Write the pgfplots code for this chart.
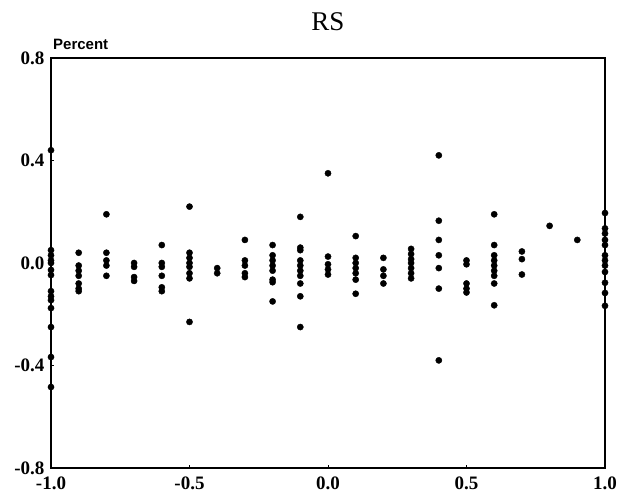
\documentclass[border=0pt]{standalone}
\usepackage{pgfplots}
\pgfplotsset{compat=1.18}
\usepackage{fontspec}
\setmainfont{Liberation Serif}
\newfontfamily\sansf{Liberation Sans}
\begin{document}
\begin{tikzpicture}
\useasboundingbox (0,0) rectangle (633bp,497bp);
\begin{axis}[
  at={(51bp,29bp)}, anchor=south west,
  scale only axis, width=554bp, height=410bp,
  xmin=-1, xmax=1, ymin=-0.8, ymax=0.8,
  axis line style={line width=1.3bp},
  xtick={-1,-0.5,0,0.5,1},
  xticklabels={-1.0,-0.5,0.0,0.5,1.0},
  ytick={-0.8,-0.4,0,0.4,0.8},
  yticklabels={-0.8,-0.4,0.0,0.4,0.8},
  xtick pos=left, ytick pos=left,
  tick align=inside, major tick length=3bp,
  tick style={line width=0.8bp, black},
  ticklabel style={font=\fontsize{19bp}{21bp}\selectfont\bfseries},
  xticklabel style={yshift=-5bp},
  yticklabel style={xshift=-3bp},
  clip=false,
  title={\fontsize{27bp}{30bp}\selectfont RS},
  title style={yshift=18bp},
]
\addplot[only marks, mark=*, mark size=3.1bp, black] table {
x y
-1.0 0.44
-1.0 0.05
-1.0 0.03
-1.0 0.01
-1.0 0.0
-1.0 -0.027
-1.0 -0.047
-1.0 -0.11
-1.0 -0.13
-1.0 -0.145
-1.0 -0.176
-1.0 -0.25
-1.0 -0.367
-1.0 -0.484
-0.9 0.04
-0.9 -0.01
-0.9 -0.03
-0.9 -0.05
-0.9 -0.08
-0.9 -0.10
-0.9 -0.11
-0.8 0.19
-0.8 0.04
-0.8 0.01
-0.8 -0.01
-0.8 -0.05
-0.7 0.0
-0.7 -0.015
-0.7 -0.055
-0.7 -0.07
-0.6 0.07
-0.6 0.0
-0.6 -0.015
-0.6 -0.05
-0.6 -0.095
-0.6 -0.11
-0.5 0.22
-0.5 0.04
-0.5 0.02
-0.5 0.0
-0.5 -0.015
-0.5 -0.04
-0.5 -0.06
-0.5 -0.23
-0.4 -0.02
-0.4 -0.04
-0.3 0.09
-0.3 0.01
-0.3 -0.01
-0.3 -0.04
-0.3 -0.055
-0.2 0.07
-0.2 0.03
-0.2 0.01
-0.2 -0.01
-0.2 -0.03
-0.2 -0.065
-0.2 -0.075
-0.2 -0.15
-0.1 0.18
-0.1 0.06
-0.1 0.05
-0.1 0.01
-0.1 -0.01
-0.1 -0.03
-0.1 -0.05
-0.1 -0.08
-0.1 -0.13
-0.1 -0.25
0.0 0.35
0.0 0.025
0.0 -0.005
0.0 -0.025
0.0 -0.045
0.1 0.105
0.1 0.02
0.1 0.0
0.1 -0.02
0.1 -0.04
0.1 -0.065
0.1 -0.12
0.2 0.02
0.2 -0.025
0.2 -0.05
0.2 -0.08
0.3 0.055
0.3 0.035
0.3 0.015
0.3 0.0
0.3 -0.02
0.3 -0.04
0.3 -0.06
0.4 0.42
0.4 0.165
0.4 0.09
0.4 0.03
0.4 -0.02
0.4 -0.1
0.4 -0.38
0.5 0.01
0.5 -0.005
0.5 -0.08
0.5 -0.1
0.5 -0.115
0.6 0.19
0.6 0.07
0.6 0.03
0.6 0.01
0.6 -0.01
0.6 -0.03
0.6 -0.05
0.6 -0.08
0.6 -0.165
0.7 0.045
0.7 0.015
0.7 -0.045
0.8 0.145
0.9 0.09
1.0 0.195
1.0 0.135
1.0 0.115
1.0 0.09
1.0 0.07
1.0 0.03
1.0 0.01
1.0 -0.01
1.0 -0.035
1.0 -0.077
1.0 -0.117
1.0 -0.167
};
\node[anchor=base west, inner sep=0pt, font=\sansf\bfseries\fontsize{15bp}{17bp}\selectfont]
  at (rel axis cs:0,1) [xshift=2bp, yshift=8bp] {Percent};
\end{axis}
\end{tikzpicture}
\end{document}
